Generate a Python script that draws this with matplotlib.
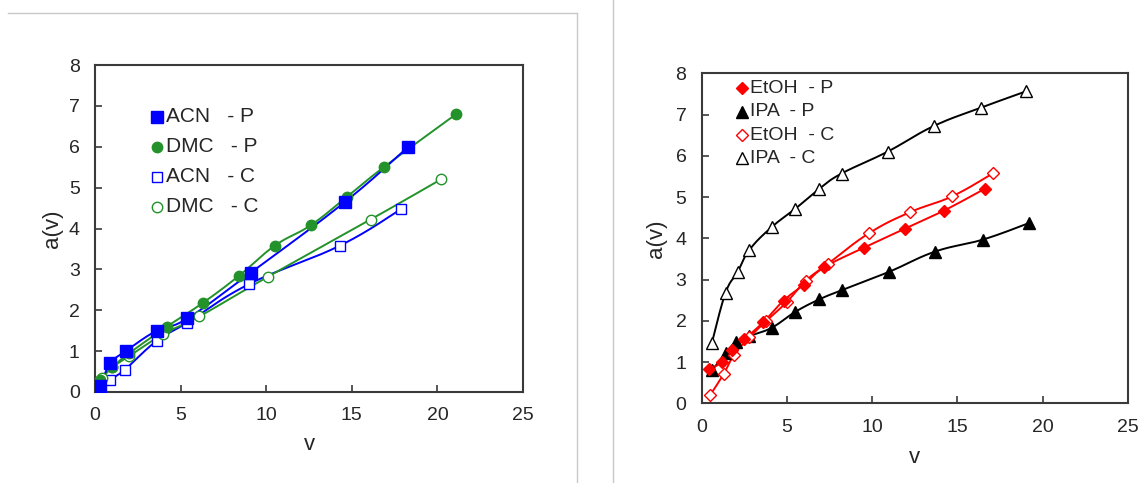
"""a(v) versus v for the four solvents, P and C series."""

import matplotlib

matplotlib.use("Agg")
import matplotlib.pyplot as plt
import numpy as np
from matplotlib.lines import Line2D

plt.rcParams["font.family"] = ["Liberation Sans", "DejaVu Sans"]

# Left panel: ACN and DMC
acn_p_v = [0.3, 0.9, 1.8, 3.6, 5.4, 9.1, 14.6, 18.3]
acn_p_a = [0.15, 0.7, 1.0, 1.5, 1.8, 2.92, 4.65, 6.0]
dmc_p_v = [0.3, 1.0, 2.0, 4.2, 6.3, 8.4, 10.5, 12.6, 14.7, 16.9, 21.1]
dmc_p_a = [0.3, 0.6, 0.95, 1.6, 2.18, 2.84, 3.58, 4.08, 4.77, 5.51, 6.8]
acn_c_v = [0.3, 0.9, 1.75, 3.6, 5.4, 9.0, 14.3, 17.9]
acn_c_a = [0.08, 0.3, 0.55, 1.25, 1.7, 2.64, 3.58, 4.48]
dmc_c_v = [0.4, 1.0, 2.0, 4.0, 6.1, 10.1, 16.1, 20.2]
dmc_c_a = [0.35, 0.6, 0.88, 1.42, 1.85, 2.82, 4.22, 5.2]

# Right panel: EtOH and IPA
etoh_p_v = [0.4, 1.2, 1.8, 2.5, 3.6, 4.8, 6.0, 7.2, 9.5, 11.9, 14.2, 16.6]
etoh_p_a = [0.82, 1.0, 1.3, 1.55, 1.96, 2.49, 2.88, 3.3, 3.77, 4.23, 4.67, 5.2]
ipa_p_v = [0.6, 1.4, 2.0, 2.8, 4.1, 5.5, 6.9, 8.2, 11.0, 13.7, 16.5, 19.2]
ipa_p_a = [0.8, 1.21, 1.48, 1.63, 1.83, 2.22, 2.52, 2.74, 3.19, 3.68, 3.97, 4.37]
etoh_c_v = [0.5, 1.3, 1.9, 2.8, 3.8, 5.0, 6.1, 7.4, 9.8, 12.2, 14.7, 17.1]
etoh_c_a = [0.2, 0.72, 1.18, 1.6, 2.0, 2.46, 2.97, 3.38, 4.12, 4.63, 5.02, 5.58]
ipa_c_v = [0.6, 1.4, 2.1, 2.8, 4.1, 5.5, 6.9, 8.2, 10.9, 13.6, 16.4, 19.0]
ipa_c_a = [1.47, 2.68, 3.18, 3.72, 4.27, 4.72, 5.2, 5.57, 6.1, 6.72, 7.17, 7.56]

BLUE = "#0000ff"
GREEN = "#23922b"
RED = "#ff0000"
BLACK = "#000000"
FRAME = "#3a3a3a"
TEXT = "#262626"

# pixels per data unit, so the smoothing bends the same way on screen
X_SCALE = 17.1
Y_SCALE = 41.1


def smooth_line(x, y, n=40, tension=5.0):
    """Bezier smoothing through every point (spreadsheet-style smoothed line)."""
    pts = np.column_stack([np.asarray(x) * X_SCALE, np.asarray(y) * Y_SCALE])
    ext = np.vstack([pts[0], pts, pts[-1]])
    t = np.linspace(0, 1, n)[:, None]
    segs = []
    for i in range(len(pts) - 1):
        p0, p1, p2, p3 = ext[i], ext[i + 1], ext[i + 2], ext[i + 3]
        c1 = p1 + (p2 - p0) / tension
        c2 = p2 - (p3 - p1) / tension
        seg = (1 - t) ** 3 * p1 + 3 * (1 - t) ** 2 * t * c1 + 3 * (1 - t) * t**2 * c2 + t**3 * p2
        segs.append(seg)
    out = np.vstack(segs)
    return out[:, 0] / X_SCALE, out[:, 1] / Y_SCALE


def draw_series(ax, v, a, color, marker, filled, ms):
    sx, sy = smooth_line(v, a)
    ax.plot(sx, sy, color=color, lw=1.4, zorder=2)
    ax.plot(
        v, a, linestyle="none", marker=marker, ms=ms,
        mfc=color if filled else "white", mec=color, mew=1.0, zorder=3,
    )


def setup_axes(ax, tick_size):
    ax.set_xlim(0, 25)
    ax.set_ylim(0, 8)
    ax.set_xticks(range(0, 26, 5))
    ax.set_yticks(range(0, 9))
    ax.tick_params(direction="in", length=5, width=1.2, color=FRAME,
                   labelsize=tick_size, pad=11, labelcolor=TEXT)
    for spine in ax.spines.values():
        spine.set_color(FRAME)
        spine.set_linewidth(1.5)


def draw_key(ax, entries, x_marker, x_text, rows, size):
    """Marker + label rows placed inside the axes."""
    for (label, color, marker, filled, ms), y in zip(entries, rows, strict=True):
        ax.plot([x_marker], [y], marker=marker, ms=ms, mfc=color if filled else "white",
                mec=color, mew=1.0, linestyle="none", transform=ax.transAxes, clip_on=False)
        ax.text(x_text, y, label, transform=ax.transAxes, va="center", ha="left",
                fontsize=size, color=TEXT)


fig = plt.figure(figsize=(11.42, 4.83), dpi=100)

# Left: ACN / DMC
ax1 = fig.add_axes([95 / 1142, 1 - 392 / 483, 428 / 1142, 327 / 483])
setup_axes(ax1, 14)
draw_series(ax1, acn_c_v, acn_c_a, BLUE, "s", False, 7.5)
draw_series(ax1, dmc_c_v, dmc_c_a, GREEN, "o", False, 7.5)
draw_series(ax1, dmc_p_v, dmc_p_a, GREEN, "o", True, 7.5)
draw_series(ax1, acn_p_v, acn_p_a, BLUE, "s", True, 8.5)
ax1.set_xlabel("v", fontsize=16, labelpad=7, color=TEXT)
ax1.set_ylabel("a(v)", fontsize=16, labelpad=4, color=TEXT)
draw_key(
    ax1,
    [("ACN   - P", BLUE, "s", True, 8.5), ("DMC   - P", GREEN, "o", True, 7.5),
     ("ACN   - C", BLUE, "s", False, 7.5), ("DMC   - C", GREEN, "o", False, 7.5)],
    0.144, 0.165, [0.842, 0.750, 0.658, 0.567], 15,
)

# Right: EtOH / IPA
ax2 = fig.add_axes([701.7 / 1142, 1 - 403.3 / 483, 426.3 / 1142, 330 / 483])
setup_axes(ax2, 14)
draw_series(ax2, ipa_c_v, ipa_c_a, BLACK, "^", False, 8.5)
draw_series(ax2, ipa_p_v, ipa_p_a, BLACK, "^", True, 8.5)
draw_series(ax2, etoh_c_v, etoh_c_a, RED, "D", False, 6.5)
draw_series(ax2, etoh_p_v, etoh_p_a, RED, "D", True, 6.5)
ax2.set_xlabel("v", fontsize=16, labelpad=8, color=TEXT)
ax2.set_ylabel("a(v)", fontsize=16, labelpad=6, color=TEXT)
draw_key(
    ax2,
    [("EtOH  - P", RED, "D", True, 6.0), ("IPA  - P", BLACK, "^", True, 8.0),
     ("EtOH  - C", RED, "D", False, 6.0), ("IPA  - C", BLACK, "^", False, 8.0)],
    0.094, 0.113, [0.955, 0.884, 0.813, 0.742], 14,
)

# Panel frames
frame_kw = {"color": "#c8c8c8", "lw": 1.0, "transform": fig.transFigure}
fig.add_artist(Line2D([8 / 1142, 577 / 1142], [1 - 13 / 483, 1 - 13 / 483], **frame_kw))
fig.add_artist(Line2D([577 / 1142, 577 / 1142], [0, 1 - 13 / 483], **frame_kw))
fig.add_artist(Line2D([613 / 1142, 613 / 1142], [0, 1], **frame_kw))

fig.savefig("out.png", dpi=100)
plt.close(fig)
